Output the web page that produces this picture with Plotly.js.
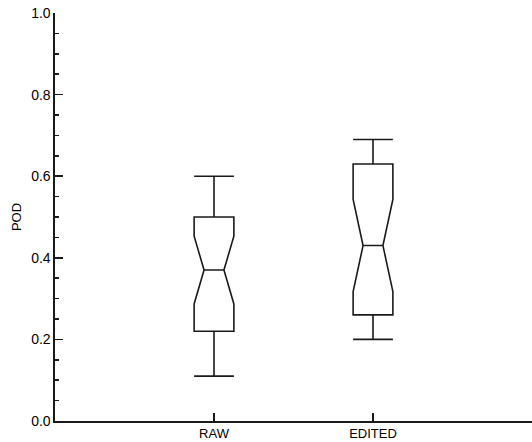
<!DOCTYPE html>
<html>
<head>
<meta charset="utf-8">
<script src="https://cdn.plot.ly/plotly-3.0.1.min.js"></script>
<style>html,body{margin:0;padding:0;background:#fff;}#chart{width:532px;height:442px;}</style>
</head>
<body>
<div id="chart"></div>
<script>
var categories = ['RAW', 'EDITED'];
var lowerWhisker = [0.11, 0.20];
var q1Values = [0.22, 0.26];
var medianValues = [0.37, 0.43];
var q3Values = [0.50, 0.63];
var upperWhisker = [0.60, 0.69];
var notchSpans = [0.083, 0.113];
var yTickValues = [0.0, 0.2, 0.4, 0.6, 0.8, 1.0];
var yTickLabels = ['0.0', '0.2', '0.4', '0.6', '0.8', '1.0'];

var lineColor = '#1a1a1a';

var trace = {
  type: 'box',
  x: categories,
  q1: q1Values,
  median: medianValues,
  q3: q3Values,
  lowerfence: lowerWhisker,
  upperfence: upperWhisker,
  notchspan: notchSpans,
  notched: true,
  notchwidth: 0.25,
  whiskerwidth: 1,
  width: 0.25,
  boxpoints: false,
  fillcolor: 'rgba(255,255,255,0)',
  line: {color: lineColor, width: 1.6},
  showlegend: false,
  hoverinfo: 'skip'
};

var layout = {
  width: 532,
  height: 442,
  margin: {l: 55, r: 0, t: 13, b: 21, pad: 0},
  paper_bgcolor: '#ffffff',
  plot_bgcolor: '#ffffff',
  font: {family: 'Liberation Sans, Arial, sans-serif', size: 13, color: '#000000'},
  showlegend: false,
  xaxis: {
    type: 'category',
    range: [-1, 2],
    showgrid: false,
    zeroline: false,
    showline: true,
    linecolor: lineColor,
    linewidth: 1.6,
    ticks: 'inside',
    ticklen: 8,
    tickwidth: 1.5,
    tickcolor: lineColor,
    tickfont: {size: 13, color: '#000000'},
    automargin: false
  },
  yaxis: {
    range: [0, 1],
    tickvals: yTickValues,
    ticktext: yTickLabels,
    showgrid: false,
    zeroline: false,
    showline: true,
    linecolor: lineColor,
    linewidth: 1.6,
    ticks: 'inside',
    ticklen: 8,
    tickwidth: 1.5,
    tickcolor: lineColor,
    tickfont: {size: 14, color: '#000000'},
    minor: {dtick: 0.05, tick0: 0, ticks: 'inside', ticklen: 4, tickwidth: 1.5, tickcolor: lineColor, showgrid: false},
    title: {text: 'POD', font: {size: 13, color: '#000000'}, standoff: 6},
    automargin: false
  }
};

Plotly.newPlot('chart', [trace], layout, {displayModeBar: false, staticPlot: true});
</script>
</body>
</html>
